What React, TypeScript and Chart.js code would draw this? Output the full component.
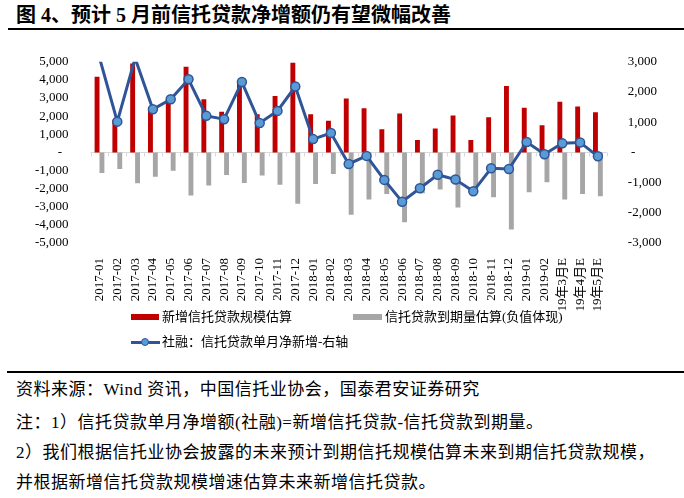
import React, { useEffect, useRef } from 'react';
import { Chart, registerables } from 'chart.js';

Chart.register(...registerables);

const categories = [
  '2017-01', '2017-02', '2017-03', '2017-04', '2017-05', '2017-06', '2017-07', '2017-08', '2017-09', '2017-10',
  '2017-11', '2017-12', '2018-01', '2018-02', '2018-03', '2018-04', '2018-05', '2018-06', '2018-07', '2018-08',
  '2018-09', '2018-10', '2018-11', '2018-12', '2019-01', '2019-02', '19年3月E', '19年4月E', '19年5月E',
];

// 新增信托贷款规模估算 (left axis)
const newLoans = [
  4180, 1800, 4900, 2500, 2900, 4730, 2930, 2250, 3800, 2100,
  3110, 4950, 2100, 1740, 2980, 2430, 1280, 2140, 680, 1320,
  2030, 680, 1940, 3660, 2470, 1500, 2800, 2530, 2220,
];

// 信托贷款到期量估算(负值体现) (left axis)
const maturities = [
  -1140, -920, -1700, -1340, -1010, -2380, -1830, -1250, -1690, -1280,
  -1780, -2840, -1740, -1190, -3440, -2600, -2290, -3850, -2250, -2050,
  -3040, -2000, -2470, -4250, -2200, -1650, -2600, -2290, -2420,
];

// 社融：信托贷款单月净新增 (right axis)
const netIncrease = [
  3134, 1018, 3117, 1430, 1760, 2420, 1210, 1100, 2330, 970,
  1375, 2180, 440, 640, -383, -116, -911, -1633, -1188, -739,
  -899, -1289, -525, -552, 345, -60, 300, 330, -130,
];

const leftMin = -5000;
const leftMax = 5000;
const rightMin = -3000;
const rightMax = 3000;
const tickStep = 1000;

const legendLabels = ['新增信托贷款规模估算', '信托贷款到期量估算(负值体现)', '社融：信托贷款单月净新增-右轴'];

const titleText = '图 4、预计 5 月前信托贷款净增额仍有望微幅改善';
const notes = [
  '资料来源：Wind 资讯，中国信托业协会，国泰君安证券研究',
  '注：1）信托贷款单月净增额(社融)=新增信托贷款-信托贷款到期量。',
  '2）我们根据信托业协会披露的未来预计到期信托规模估算未来到期信托贷款规模，',
  '并根据新增信托贷款规模增速估算未来新增信托贷款。',
];

const RED = '#C00000';
const GRAY = '#A6A6A6';
const BLUE = '#2F5597';
const LIGHT_BLUE = '#5B9BD5';
const FONT = "'Liberation Serif', 'Noto Sans CJK SC', serif";

const fmt = (v: number) => Math.abs(v) < 1e-9 ? '-' : Number(v).toLocaleString('en-US');

const zeroLinePlugin = {
  id: 'zeroLine',
  beforeDatasetsDraw(chart: any) {
    const { ctx, chartArea, scales } = chart;
    const y = Math.round(scales.y.getPixelForValue(0)) + 0.5;
    const xs = scales.x;
    const n = categories.length;
    const w = (chartArea.right - chartArea.left) / n;
    ctx.save();
    ctx.strokeStyle = '#D9D9D9';
    ctx.lineWidth = 1;
    ctx.beginPath();
    ctx.moveTo(chartArea.left, y);
    ctx.lineTo(chartArea.right, y);
    for (let i = 0; i <= n; i++) {
      const x = Math.round(xs.getPixelForValue(0) - w / 2 + i * w) + 0.5;
      ctx.moveTo(x, y);
      ctx.lineTo(x, y + 4);
    }
    ctx.stroke();
    ctx.restore();
  },
};

function ChartCanvas() {
  const ref = useRef<HTMLCanvasElement | null>(null);
  useEffect(() => {
    if (!ref.current) return;
    const chart = new Chart(ref.current, {
      type: 'bar',
      data: {
        labels: categories,
        datasets: [
          {
            type: 'line',
            label: legendLabels[2],
            data: netIncrease,
            yAxisID: 'y1',
            borderColor: BLUE,
            borderWidth: 3,
            pointRadius: (c: any) => (c.raw > rightMax || c.raw < rightMin ? 0 : 4.5),
            pointBackgroundColor: LIGHT_BLUE,
            pointBorderColor: BLUE,
            pointBorderWidth: 1.5,
            tension: 0,
            order: 0,
            clip: 0,
          } as any,
          {
            type: 'bar',
            label: legendLabels[0],
            data: newLoans,
            yAxisID: 'y',
            backgroundColor: RED,
            categoryPercentage: 0.55,
            barPercentage: 1,
            order: 1,
          },
          {
            type: 'bar',
            label: legendLabels[1],
            data: maturities,
            yAxisID: 'y',
            backgroundColor: GRAY,
            categoryPercentage: 0.55,
            barPercentage: 1,
            order: 1,
          },
        ],
      },
      options: {
        responsive: false,
        animation: false,
        layout: { padding: { top: 21, left: 0, right: 0, bottom: 0 } },
        plugins: { legend: { display: false }, tooltip: { enabled: false }, title: { display: false } },
        scales: {
          x: {
            offset: true,
            grid: { display: false },
            border: { display: false },
            ticks: {
              autoSkip: false,
              maxRotation: 90,
              minRotation: 90,
              padding: 7,
              color: '#000',
              font: { family: FONT, size: 13 },
            },
            afterFit: (s: any) => { s.height = 77; },
          },
          y: {
            position: 'left',
            min: leftMin,
            max: leftMax,
            grid: { display: false },
            border: { display: false },
            ticks: {
              autoSkip: false,
              stepSize: tickStep,
              padding: 14,
              color: '#000',
              font: { family: FONT, size: 13 },
              callback: (v: any) => (Number(v) === 0 ? '-  ' : fmt(Number(v))),
            },
            afterFit: (s: any) => { s.width = 90.6; },
          },
          y1: {
            position: 'right',
            min: rightMin,
            max: rightMax,
            grid: { display: false },
            border: { display: false },
            ticks: {
              autoSkip: false,
              stepSize: tickStep,
              padding: 13,
              color: '#000',
              font: { family: FONT, size: 13 },
              callback: (v: any) => (Number(v) === 0 ? ' -' : fmt(Number(v))),
            },
            afterFit: (s: any) => { s.width = 77.2; },
          },
        },
      } as any,
      plugins: [zeroLinePlugin],
    });
    return () => chart.destroy();
  }, []);
  return <canvas ref={ref} width={684} height={280} style={{ position: 'absolute', left: 0, top: 40, width: 684, height: 280 }} />;
}

const textBase: React.CSSProperties = {
  position: 'absolute',
  fontFamily: FONT,
  color: '#000',
  whiteSpace: 'nowrap',
  margin: 0,
};

export default function App() {
  return (
    <div style={{ position: 'absolute', left: 0, top: 0, width: 684, height: 498, background: '#fff', overflow: 'hidden' }}>
      <div style={{ ...textBase, left: 16, top: 4, fontSize: 20, lineHeight: '22px', fontWeight: 700 }}>{titleText}</div>
      <div style={{ position: 'absolute', left: 8, top: 28, width: 676, height: 2, background: '#000' }} />
      <ChartCanvas />
      {/* legend */}
      <div style={{ position: 'absolute', left: 131, top: 314, width: 28, height: 6, background: RED }} />
      <div style={{ ...textBase, left: 162, top: 309, fontSize: 13, lineHeight: '16px' }}>{legendLabels[0]}</div>
      <div style={{ position: 'absolute', left: 353, top: 314, width: 29, height: 6, background: GRAY }} />
      <div style={{ ...textBase, left: 385, top: 309, fontSize: 13, lineHeight: '16px' }}>{legendLabels[1]}</div>
      <div style={{ position: 'absolute', left: 131, top: 340.5, width: 29, height: 3, background: BLUE }} />
      <div style={{ position: 'absolute', left: 140.5, top: 337.5, width: 6, height: 6, borderRadius: '50%', background: LIGHT_BLUE, border: `1.5px solid ${BLUE}` }} />
      <div style={{ ...textBase, left: 162, top: 334, fontSize: 13, lineHeight: '16px' }}>{legendLabels[2]}</div>
      {/* footnotes */}
      <div style={{ position: 'absolute', left: 7, top: 371, width: 677, height: 2, background: '#000' }} />
      {notes.map((t, i) => (
        <div key={i} style={{ ...textBase, left: 16, top: [380, 413, 443, 473][i], fontSize: 17, lineHeight: '20px', letterSpacing: '0.5px' }}>{t}</div>
      ))}
    </div>
  );
}
